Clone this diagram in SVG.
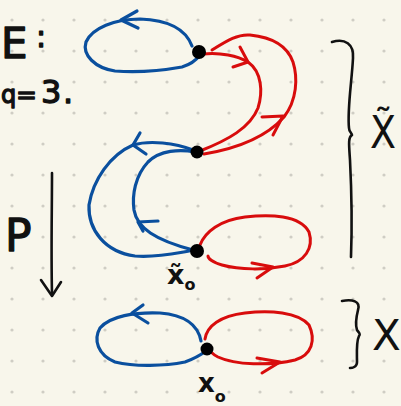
<svg xmlns="http://www.w3.org/2000/svg" width="401" height="406" viewBox="0 0 401 406">
<defs>
<style>
.b{fill:none;stroke:#0a4f9e;stroke-width:3.2;stroke-linecap:round;stroke-linejoin:round}
.r{fill:none;stroke:#d80c0c;stroke-width:3;stroke-linecap:round;stroke-linejoin:round}
.k{fill:none;stroke:#111;stroke-width:2.6;stroke-linecap:round;stroke-linejoin:round}
.t{font-family:"DejaVu Sans","Liberation Sans",sans-serif;fill:#111}
.h{stroke:#111;stroke-width:1.3;stroke-linejoin:round}
</style>
<pattern id="dots" x="0" y="0" width="31" height="31" patternUnits="userSpaceOnUse">
<circle cx="12" cy="20" r="1.6" fill="#cfcdc4"/>
</pattern>
</defs>
<rect width="401" height="406" fill="#f8f6eb"/>
<rect width="401" height="406" fill="url(#dots)"/>

<g id="texts">
<text class="t h" x="1" y="58" font-size="42">E</text>
<text class="t h" x="36" y="47" font-size="30">:</text>
<text class="t h" y="103" font-size="32"><tspan x="1" font-size="24">q</tspan><tspan x="16" font-size="25">=</tspan><tspan x="41">3</tspan><tspan x="63">.</tspan></text>
<text class="t h" x="5" y="251" font-size="44">P</text>
</g>

<g id="connectors">
<path class="b" d="M192,46 C186,30 170,20 140,19 C115,19 92,28 86,42 C82,55 95,68 115,71 C140,73 165,70 182,67 C192,64 197,59 200,55"/>
<path class="b" d="M137,11 L121,20 L138,28"/>
<path class="r" d="M203,54 C220,52 238,56 248,62 C262,72 263,92 258,108 C250,128 228,140 200,151"/>
<path class="r" d="M240,47 L248,62 L233,67"/>
<path class="r" d="M212,50 C228,40 238,34 250,35 C270,37 287,45 293,62 C298,78 297,100 284,117 C268,135 240,148 204,154"/>
<path class="r" d="M262,117 L283,116 L273,135"/>
<path class="b" d="M193,150 C175,143 150,140 133,145 C110,155 93,180 89,205 C88,230 105,252 135,256 C160,258 180,252 196,250"/>
<path class="b" d="M140,133 L133,145 L146,154"/>
<path class="b" d="M195,152 C180,149 160,150 148,162 C135,176 132,195 134,210 C137,228 155,240 193,250"/>
<path class="b" d="M158,221 L138,222 L143,231"/>
<path class="r" d="M200,245 C205,232 220,220 245,217 C270,214 300,215 309,232 C314,248 305,262 285,266 C265,270 240,270 222,265 C212,262 208,258 208,256"/>
<path class="r" d="M252,263 L273,267 L257,278"/>
<path class="b" d="M201,341 C198,325 185,315 160,313 C135,312 110,316 100,328 C93,340 98,355 115,362 C135,367 165,366 185,362 C196,358 202,354 206,351"/>
<path class="b" d="M143,305 L132,313 L148,323"/>
<path class="r" d="M205,339 C207,326 220,316 245,313 C270,310 298,312 309,325 C316,340 312,355 295,360 C270,366 235,365 218,357 C212,354 209,350 209,349"/>
<path class="r" d="M257,358 L280,362 L262,373"/>
<path class="k" d="M52,173 C52,210 51,250 52,294" stroke-width="3"/>
<path class="k" d="M41,280 L52,296 L61,282" stroke-width="3"/>
<path class="k" d="M332,42 C345,38 354,44 353,58 C352,80 347,110 349,128 C349,132 352,133 352,135 C348,137 349,145 350,160 C352,200 352,230 351,257"/>
<path class="k" d="M342,301 C352,299 361,301 358,310 C356,318 355,324 357,330 C359,333 361,334 359,336 C356,342 357,355 357,362 C357,367 352,368 350,368"/>
</g>

<g id="node-A"><circle cx="199" cy="52" r="7" fill="#000"/></g>
<g id="node-B"><circle cx="197" cy="152" r="6.5" fill="#000"/></g>
<g id="node-C"><circle cx="197" cy="251" r="7" fill="#000"/>
<text class="t" x="167" y="284" font-size="27" font-weight="bold">x̃<tspan font-size="16" dy="6">o</tspan></text></g>
<g id="node-D"><circle cx="207" cy="349" r="6.5" fill="#000"/>
<text class="t" x="198" y="392" font-size="26" font-weight="bold">x<tspan font-size="16" dy="10">o</tspan></text></g>

<g id="labels">
<text class="t" x="370" y="148" font-size="44" textLength="26" lengthAdjust="spacingAndGlyphs">X̃</text>
<text class="t" x="372" y="350" font-size="42">X</text>
</g>
</svg>
